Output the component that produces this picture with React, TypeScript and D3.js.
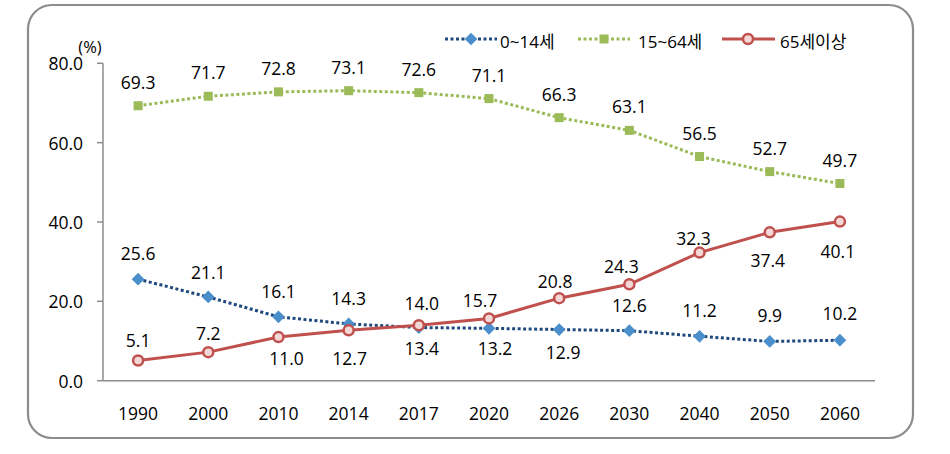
import React from "react";
import * as d3 from "d3";

const years = ["1990", "2000", "2010", "2014", "2017", "2020", "2026", "2030", "2040", "2050", "2060"];
const age0to14 = [25.6, 21.1, 16.1, 14.3, 13.4, 13.2, 12.9, 12.6, 11.2, 9.9, 10.2];
const age15to64 = [69.3, 71.7, 72.8, 73.1, 72.6, 71.1, 66.3, 63.1, 56.5, 52.7, 49.7];
const age65plus = [5.1, 7.2, 11.0, 12.7, 14.0, 15.7, 20.8, 24.3, 32.3, 37.4, 40.1];
const seriesNames = ["0~14세", "15~64세", "65세이상"];
const yTicks = [0, 20, 40, 60, 80];

// label placement (layout, px)
const dyBlue = [-26, -25, -26, -26, 20, 20, 22, -26, -26, -26, -27];
const dxBlue = [0, 0, 0, 0, 3, 6, 4, 0, 0, 0, 0];
const dyGreen = [-24, -24, -24, -24, -24, -24, -24, -24, -24, -24, -24];
const dyRed = [-20, -19, 21, 28, -22, -18, -17, -18, -15, 28, 29];
const dxRed = [0, 0, 8, 1, 3, -9, -4, -8, -6, -2, -2];

const W = 950, H = 454;
const FONT = "'Open Sans', 'Noto Sans CJK KR', sans-serif";

export default function App() {
  const x = d3.scaleBand().domain(years).range([103, 875]);
  const y = d3.scaleLinear().domain([0, 80]).range([380.7, 63.3]);
  const cx = (d: string) => (x(d) as number) + x.bandwidth() / 2;
  const line = d3.line<number>().x((_, i) => cx(years[i])).y((v) => y(v));

  const blue = "#1F497D", blueM = "#4A8FCB";
  const green = "#9BBB59";
  const red = "#C0504D";

  const labels = (vals: number[], dy: number[], dx: number[] | null, key: string) =>
    vals.map((v, i) => (
      <text key={key + i} x={cx(years[i]) + (dx ? dx[i] : 0)} y={y(v) + dy[i]} textAnchor="middle"
        dominantBaseline="central" fontSize={17.5} fill="#000">{v.toFixed(1)}</text>
    ));

  const diamond = (px: number, py: number, k: string) => (
    <rect key={k} x={px - 4.5} y={py - 4.5} width={9} height={9} fill={blueM}
      transform={`rotate(45 ${px} ${py})`} />
  );
  const square = (px: number, py: number, k: string) => (
    <rect key={k} x={px - 4.5} y={py - 4.5} width={9} height={9} fill={green} />
  );
  const circle = (px: number, py: number, k: string) => (
    <circle key={k} cx={px} cy={py} r={5} fill="#F4D8D8" stroke={red} strokeWidth={2.5} />
  );

  return (
    <svg width={W} height={H} style={{ position: "absolute", left: 0, top: 0, fontFamily: FONT }}>
      <rect x={28} y={5} width={885} height={433} rx={24} ry={24} fill="#fff" stroke="#8c8c8c" strokeWidth={2.2} />
      {/* axes */}
      <line x1={103} x2={103} y1={y(80)} y2={y(0)} stroke="#8c8c8c" strokeWidth={1.5} />
      <line x1={103} x2={875} y1={y(0)} y2={y(0)} stroke="#8c8c8c" strokeWidth={1.5} />
      {yTicks.map((t) => (
        <g key={"yt" + t}>
          <line x1={97} x2={103} y1={y(t)} y2={y(t)} stroke="#8c8c8c" strokeWidth={1.5} />
          <text x={83} y={y(t)} textAnchor="end" dominantBaseline="central" fontSize={17.5}>{t.toFixed(1)}</text>
        </g>
      ))}
      <text x={90} y={46} textAnchor="middle" dominantBaseline="central" fontSize={16.5}>(%)</text>
      {years.map((yr) => (
        <text key={"x" + yr} x={cx(yr)} y={413} textAnchor="middle" dominantBaseline="central" fontSize={17.5}>{yr}</text>
      ))}
      {/* lines */}
      <path d={line(age15to64) || ""} fill="none" stroke={green} strokeWidth={3} strokeDasharray="3 2.5" />
      <path d={line(age0to14) || ""} fill="none" stroke={blue} strokeWidth={3} strokeDasharray="3 2.5" />
      {age15to64.map((v, i) => square(cx(years[i]), y(v), "gs" + i))}
      {age0to14.map((v, i) => diamond(cx(years[i]), y(v), "bd" + i))}
      <path d={line(age65plus) || ""} fill="none" stroke={red} strokeWidth={3} />
      {age65plus.map((v, i) => circle(cx(years[i]), y(v), "rc" + i))}
      {/* labels */}
      {labels(age15to64, dyGreen, null, "gl")}
      {labels(age0to14, dyBlue, dxBlue, "bl")}
      {labels(age65plus, dyRed, dxRed, "rl")}
      {/* legend */}
      <g>
        <line x1={445} x2={497} y1={39} y2={39} stroke={blue} strokeWidth={3} strokeDasharray="3 2.5" />
        {diamond(471, 39, "lgd")}
        <text x={500} y={41} dominantBaseline="central" fontSize={17}>{seriesNames[0]}</text>
        <line x1={578} x2={630} y1={39} y2={39} stroke={green} strokeWidth={3} strokeDasharray="3 2.5" />
        {square(604, 39, "lgs")}
        <text x={638} y={41} dominantBaseline="central" fontSize={17}>{seriesNames[1]}</text>
        <line x1={722} x2={775} y1={39} y2={39} stroke={red} strokeWidth={3} />
        {circle(748, 39, "lgc")}
        <text x={780} y={41} dominantBaseline="central" fontSize={17}>{seriesNames[2]}</text>
      </g>
    </svg>
  );
}
